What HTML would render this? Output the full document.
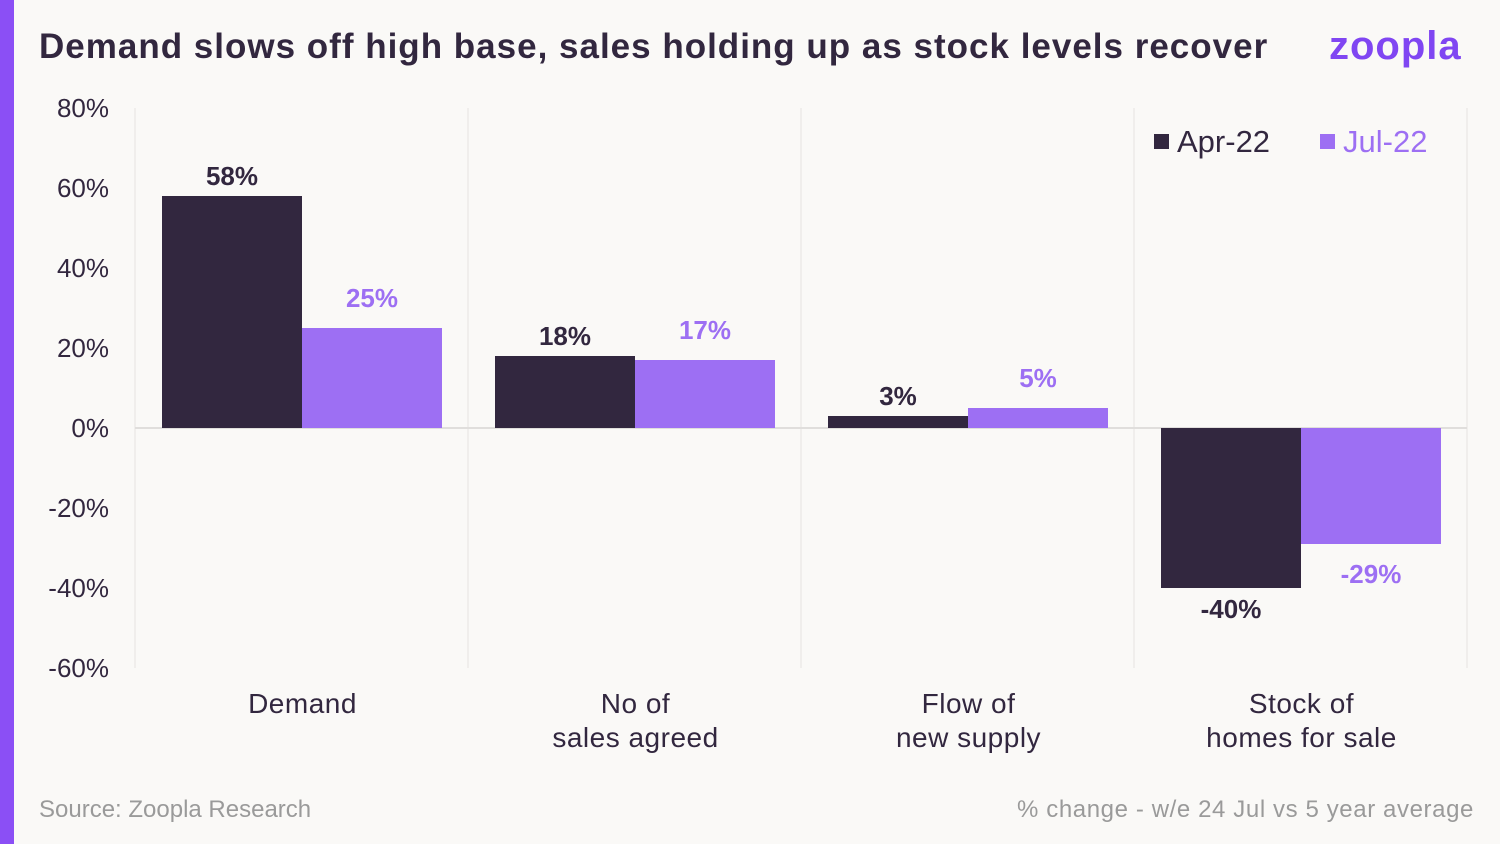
<!DOCTYPE html>
<html><head><meta charset="utf-8"><style>
html,body{margin:0;padding:0;}
body{width:1500px;height:844px;background:#faf9f7;position:relative;overflow:hidden;font-family:"Liberation Sans",sans-serif;}
.stripe{position:absolute;left:0;top:0;width:14px;height:844px;background:#8b4ff5;}
.title{position:absolute;left:39px;top:27px;font-size:35px;font-weight:bold;color:#32273f;letter-spacing:1.0px;white-space:nowrap;}
.logo{position:absolute;left:1329px;top:24px;font-size:40px;font-weight:bold;color:#8046f2;letter-spacing:1px;}
.foot{position:absolute;top:796px;font-size:24px;color:#9a9a9a;white-space:nowrap;}
svg{position:absolute;left:0;top:0;}
</style></head><body>
<div class="stripe"></div>
<div class="title">Demand slows off high base, sales holding up as stock levels recover</div>
<div class="logo">zoopla</div>
<div class="foot" style="left:39px">Source: Zoopla Research</div>
<div class="foot" style="right:26px;letter-spacing:0.6px">% change - w/e 24 Jul vs 5 year average</div>
<svg id="chart" width="1500" height="844"></svg>
<script>
const categories=[["Demand"],["No of","sales agreed"],["Flow of","new supply"],["Stock of","homes for sale"]];
const seriesNames=["Apr-22","Jul-22"];
const apr=[58,18,3,-40];
const jul=[25,17,5,-29];
const ticks=[80,60,40,20,0,-20,-40,-60];
const colors=["#32273f","#9d6ff3"];
const NS="http://www.w3.org/2000/svg";
const svg=document.getElementById("chart");
const y0=428,ppu=4,left=135,gw=333;
const y=v=>y0-v*ppu;
const gx=i=>left+i*gw;
function mk(t,a,txt){const e=document.createElementNS(NS,t);for(const k in a)e.setAttribute(k,a[k]);if(txt!==undefined)e.textContent=txt;svg.appendChild(e);return e;}
for(let i=0;i<=categories.length;i++){
 const l=mk("line",{x1:gx(i),x2:gx(i),y1:108,y2:668,stroke:"#e6e4e2","stroke-width":1});
 
 
}
ticks.forEach(t=>{
 const e=mk("text",{x:109,y:y(t)+9,"text-anchor":"end","font-size":26,fill:"#32273f"},t+"%");
 
 
});
const z=mk("line",{x1:135,x2:1467,y1:y0,y2:y0,stroke:"#e0dedc","stroke-width":2});


[apr,jul].forEach((s,si)=>{
 s.forEach((v,i)=>{
  const x=gx(i)+27+si*140;
  const r=mk("rect",{x:x,y:Math.min(y(v),y0),width:140,height:Math.abs(v)*ppu,fill:colors[si]});
  
  
  const ly=v>=0?y(v)-(si?21:11):y(v)+(si?39:30);
  const t=mk("text",{x:x+70,y:ly,"text-anchor":"middle","font-size":26,"font-weight":"bold",fill:colors[si]},v+"%");
  
  
 });
});
categories.forEach((c,i)=>{
 c.forEach((ln,j)=>{
  const t=mk("text",{x:gx(i)+gw/2+1,y:713+j*34,"text-anchor":"middle","font-size":28,fill:"#32273f","letter-spacing":"0.5"},ln);
  
  
 });
});
const lx=[1154,1320];
seriesNames.forEach((n,i)=>{
 const r=mk("rect",{x:lx[i],y:134,width:15,height:15,fill:colors[i]});
 
 
 const t=mk("text",{x:lx[i]+23,y:152,"font-size":31,fill:colors[i]},n);
 
 
});
</script>
</body></html>
